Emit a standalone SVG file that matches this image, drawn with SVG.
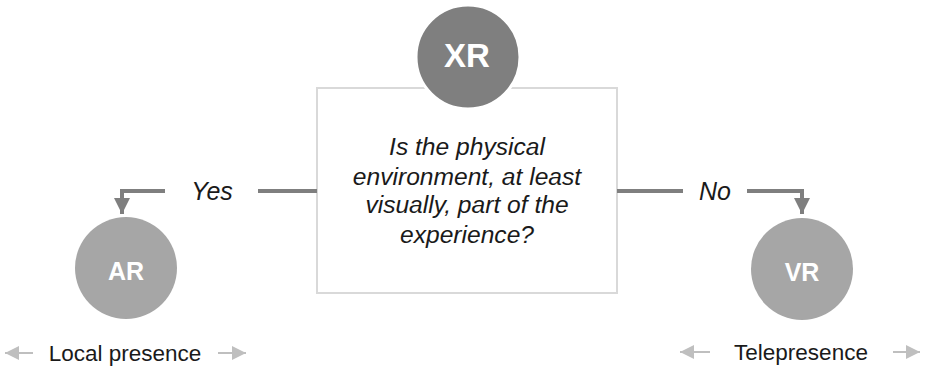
<svg xmlns="http://www.w3.org/2000/svg" width="925" height="367" viewBox="0 0 925 367">
<style>
.q{font-family:"Liberation Sans",Arial,sans-serif;font-style:italic;font-size:24.6px;fill:#1a1a1a;text-anchor:middle}
.lbl{font-family:"Liberation Sans",Arial,sans-serif;font-style:italic;font-size:25px;fill:#1a1a1a;text-anchor:middle}
.cap{font-family:"Liberation Sans",Arial,sans-serif;font-weight:bold;fill:#ffffff;text-anchor:middle}
.foot{font-family:"Liberation Sans",Arial,sans-serif;font-size:22.5px;fill:#1a1a1a;text-anchor:middle}
.conn{fill:none;stroke:#7f7f7f;stroke-width:4}
.side{fill:none;stroke:#bfbfbf;stroke-width:2}
</style>
<defs>
<marker id="ah" viewBox="0 0 10 10" refX="10" refY="5" markerWidth="4" markerHeight="4" orient="auto" markerUnits="strokeWidth">
<path d="M0,0 L10,5 L0,10 z" fill="#7f7f7f"/>
</marker>
<marker id="sa" viewBox="0 0 10 10" refX="10" refY="5" markerWidth="7" markerHeight="7" orient="auto" markerUnits="strokeWidth">
<path d="M0,0 L10,5 L0,10 z" fill="#bfbfbf"/>
</marker>
</defs>
<rect width="925" height="367" fill="#ffffff"/>
<g id="question">
<rect x="317" y="88" width="300" height="205" fill="#ffffff" stroke="#d9d9d9" stroke-width="2"/>
<text class="q" x="467" y="155">Is the physical</text>
<text class="q" x="467" y="185">environment, at least</text>
<text class="q" x="467" y="213">visually, part of the</text>
<text class="q" x="467" y="243">experience?</text>
</g>
<g id="xr">
<circle cx="468" cy="57" r="52" fill="#7f7f7f" stroke="#ffffff" stroke-width="3"/>
<text class="cap" x="467" y="67" font-size="33">XR</text>
</g>
<g id="connectors">
<path class="conn" d="M317,191 H258"/>
<path class="conn" d="M165,191 H122 V214" marker-end="url(#ah)"/>
<text class="lbl" x="212" y="200">Yes</text>
<path class="conn" d="M617,191 H683"/>
<path class="conn" d="M747,191 H802 V214" marker-end="url(#ah)"/>
<text class="lbl" x="715" y="200">No</text>
</g>
<g id="ar">
<circle cx="126" cy="268" r="51" fill="#a6a6a6"/>
<text class="cap" x="126" y="280" font-size="25">AR</text>
</g>
<g id="vr">
<circle cx="802" cy="269" r="51" fill="#a6a6a6"/>
<text class="cap" x="802" y="281" font-size="25">VR</text>
</g>
<g id="local">
<path class="side" d="M33,353 H5" marker-end="url(#sa)"/>
<text class="foot" x="125" y="361">Local presence</text>
<path class="side" d="M218,353 H246" marker-end="url(#sa)"/>
</g>
<g id="tele">
<path class="side" d="M710,352 H680" marker-end="url(#sa)"/>
<text class="foot" x="801" y="360">Telepresence</text>
<path class="side" d="M893,352 H920" marker-end="url(#sa)"/>
</g>
</svg>
